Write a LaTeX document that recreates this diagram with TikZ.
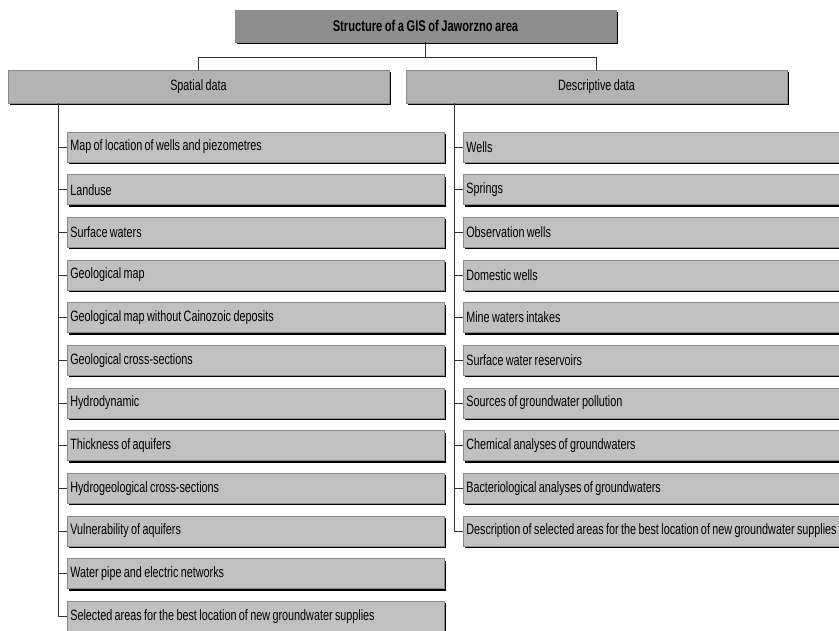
\documentclass[tikz,border=0pt]{standalone}
\usepackage{fontspec}
\setmainfont{Liberation Sans}[FakeStretch=0.72, WordSpace=0.8]
\usetikzlibrary{shadows}
\definecolor{titlefill}{HTML}{8E8E8E}
\definecolor{headfill}{HTML}{B3B3B3}
\definecolor{childfill}{HTML}{C0C0C0}
\definecolor{edge}{HTML}{8A8A8A}
\tikzset{
  shad/.style={drop shadow={shadow xshift=2pt, shadow yshift=-2pt, fill=black, opacity=1}},
  titlebox/.style={shad, draw=edge, line width=0.6pt, fill=titlefill, minimum width=381pt, minimum height=32pt, inner sep=0pt, font=\fontsize{15.5}{17}\selectfont\bfseries},
  headbox/.style={shad, draw=edge, line width=0.6pt, fill=headfill, minimum width=381pt, minimum height=33pt, inner sep=0pt, font=\fontsize{15}{17}\selectfont},
  childbox/.style={shad, draw=edge, line width=0.6pt, fill=childfill, anchor=west, inner xsep=3pt, inner ysep=0pt, minimum height=30pt, font=\fontsize{15}{17}\selectfont},
  conn/.style={draw=black!80, line width=0.7pt},
}
\newcommand{\lbox}[1]{\makebox[371pt][l]{#1}}
\begin{document}
\begin{tikzpicture}[x=1pt,y=-1pt]
\clip (0,0) rectangle (839,631);
\fill[white] (0,0) rectangle (839,631);
% title and headers
\node[titlebox] (title) at (425.5,26) {Structure of a GIS of Jaworzno area};
\node[headbox] (sp) at (198.5,86.5) {Spatial data};
\node[headbox] (de) at (596.5,86.5) {Descriptive data};
\coordinate (hb) at (0,57);
\draw[conn] (title.south) -- (title.south |- hb);
\draw[conn] (sp.north) -- (sp.north |- hb) -- (de.north |- hb) -- (de.north);
% trunk positions
\coordinate (lt) at (58,0);
\coordinate (rt) at (454,0);
% spatial children
\foreach \t [count=\i] in {Map of location of wells and piezometres, Landuse, Surface waters, Geological map, Geological map without Cainozoic deposits, Geological cross-sections, Hydrodynamic, Thickness of aquifers, Hydrogeological cross-sections, Vulnerability of aquifers, Water pipe and electric networks, Selected areas for the best location of new groundwater supplies}{
  \pgfmathsetmacro\yy{147+42.65*(\i-1)}
  \node[childbox] (s\i) at (67,\yy) {\lbox{\t}};
  \draw[conn] (lt |- s\i.west) -- (s\i.west);
}
\draw[conn] (sp.south -| lt) -- (lt |- s12.west);
% descriptive children
\foreach \t [count=\i] in {Wells, Springs, Observation wells, Domestic wells, Mine waters intakes, Surface water reservoirs, Sources of groundwater pollution, Chemical analyses of groundwaters, Bacteriological analyses of groundwaters, Description of selected areas for the best location of new groundwater supplies}{
  \pgfmathsetmacro\yy{147+42.65*(\i-1)}
  \node[childbox] (d\i) at (463,\yy) {\lbox{\t}};
  \draw[conn] (rt |- d\i.west) -- (d\i.west);
}
\draw[conn] (de.south -| rt) -- (rt |- d10.west);
\end{tikzpicture}
\end{document}
